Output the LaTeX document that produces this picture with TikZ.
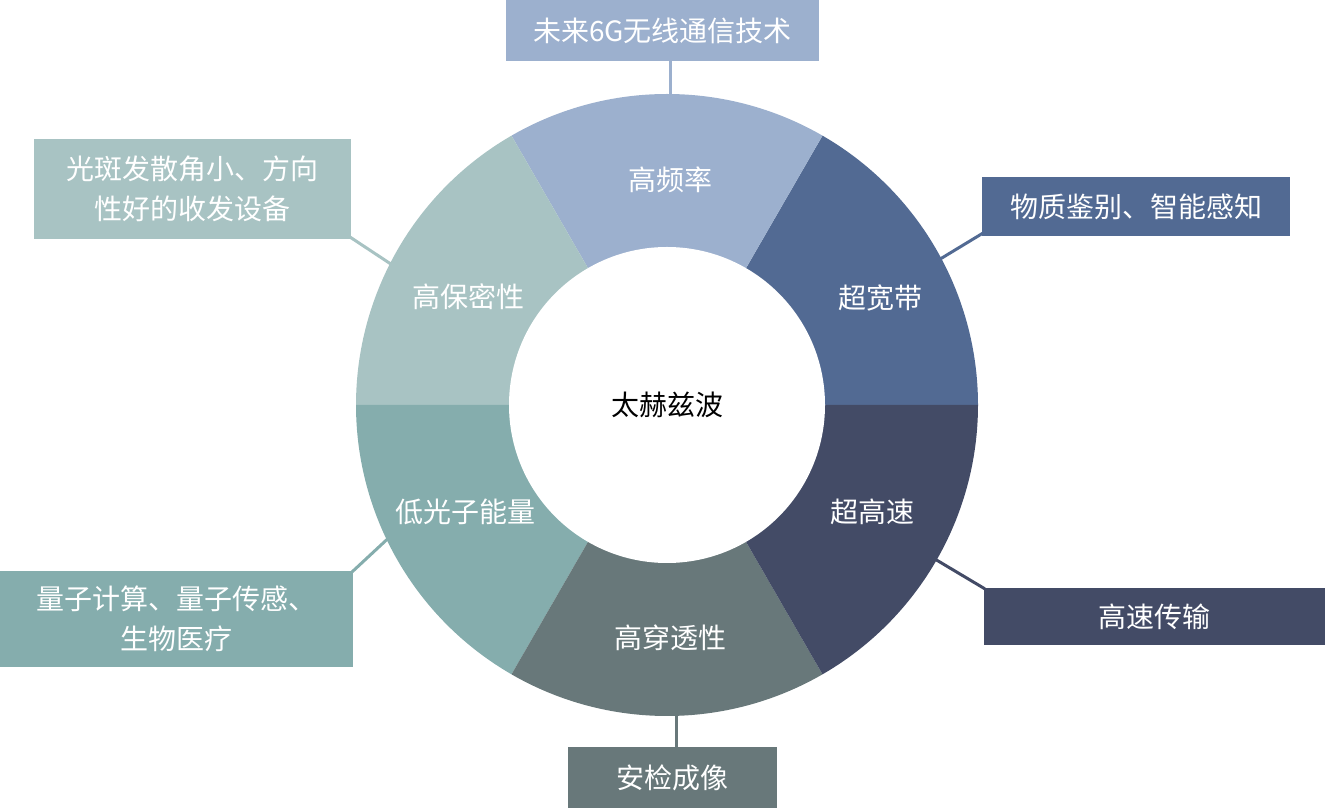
\documentclass[tikz,border=0pt]{standalone}
\usepackage{fontspec}
\newfontfamily\cjk{Noto Sans CJK SC}
\usetikzlibrary{calc}
\definecolor{cA}{HTML}{9CB0CE}
\definecolor{cB}{HTML}{526A93}
\definecolor{cC}{HTML}{434B66}
\definecolor{cD}{HTML}{68787A}
\definecolor{cE}{HTML}{85ADAD}
\definecolor{cF}{HTML}{A8C3C3}
\tikzset{
  lab/.style={font=\cjk\fontsize{28}{40}\selectfont, text=white, align=center, inner sep=0pt},
  appbox/.style={lab, minimum width=#1, anchor=center},
  conn/.style={line width=3pt},
}
\begin{document}
\begin{tikzpicture}[x=1pt,y=1pt]
\useasboundingbox (0,0) rectangle (1325,808);
\coordinate (c) at (667,403);
\def\R{311}
\def\r{158}
% ring segments
\foreach \a/\col in {0/cB,60/cA,120/cF,180/cE,240/cD,300/cC}{
  \pgfmathsetmacro{\b}{\a+60}
  \fill[\col] (c) -- ($(c)+(\a:\R)$) arc[start angle=\a,end angle=\b,radius=\R] -- cycle;
}
\node[circle, fill=white, minimum size=316pt, inner sep=0pt, font=\cjk\fontsize{28}{40}\selectfont] (center) at (c) {太赫兹波};
% segment labels
\node[lab] (s1) at (670,628) {高频率};
\node[lab] (s2) at (880,510) {超宽带};
\node[lab] (s3) at (872,296) {超高速};
\node[lab] (s4) at (670,170) {高穿透性};
\node[lab] (s5) at (465,296) {低光子能量};
\node[lab] (s6) at (468,511) {高保密性};
% application boxes
\node[lab, fill=cA, minimum width=313pt, minimum height=61pt] (b1) at (662.5,777.5) {未来6G无线通信技术};
\node[lab, fill=cB, minimum width=308pt, minimum height=59pt] (b2) at (1136,601.5) {物质鉴别、智能感知};
\node[lab, fill=cC, minimum width=341pt, minimum height=57pt] (b3) at (1154.5,191.5) {高速传输};
\node[lab, fill=cD, minimum width=209pt, minimum height=61pt] (b4) at (672.5,30.5) {安检成像};
\node[lab, fill=cE, minimum width=353pt, minimum height=96pt] (b5) at (176.5,189) {量子计算、量子传感、\\生物医疗};
\node[lab, fill=cF, minimum width=317pt, minimum height=100pt] (b6) at (192.5,619) {光斑发散角小、方向\\性好的收发设备};
% ring anchor points
\coordinate (r1) at ($(c)+(89.4:\R-3)$);
\coordinate (r2) at ($(c)+(28.1:\R-3)$);
\coordinate (r3) at ($(c)+(-29.9:\R-3)$);
\coordinate (r4) at ($(c)+(-88.3:\R-3)$);
\coordinate (r5) at ($(c)+(205.5:\R-3)$);
\coordinate (r6) at ($(c)+(153:\R-3)$);
% connectors
\draw[conn, cA] (r1) -- (r1 |- b1.south);
\draw[conn, cB] (r2) -- ($(b2.south west)+(1,3)$);
\draw[conn, cC] (r3) -- ($(b3.north west)+(1,-1)$);
\draw[conn, cD] (r4) -- (r4 |- b4.north);
\draw[conn, cE] (r5) -- ($(b5.north east)+(-1,-1)$);
\draw[conn, cF] (r6) -- ($(b6.south east)+(-1,2)$);
\end{tikzpicture}
\end{document}
